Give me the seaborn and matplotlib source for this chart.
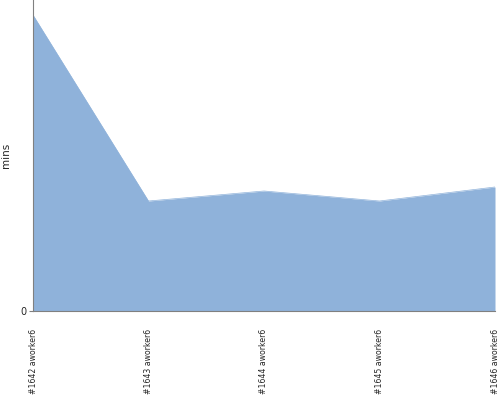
import matplotlib
matplotlib.use("Agg")
import matplotlib.pyplot as plt
import seaborn as sns
import numpy as np

# builds and their duration (mins)
builds = ['#1642 aworker6', '#1643 aworker6', '#1644 aworker6',
          '#1645 aworker6', '#1646 aworker6']
mins = [29.6, 11.0, 12.0, 11.0, 12.4]
y_max = 31.1

sns.set_style("white")
plt.rcParams['font.family'] = ['DejaVu Sans']

fig = plt.figure(figsize=(5, 4), dpi=100)
ax = fig.add_axes([0.066, 0.2225, 0.924, 0.7775])

x = np.arange(len(builds))
ax.fill_between(x, 0, mins, color='#8fb2da', linewidth=0)
sns.lineplot(x=x, y=mins, ax=ax, color='#8fb2da', linewidth=0.5)

ax.set_xlim(0, len(builds) - 1)
ax.set_ylim(0, y_max)
ax.set_xticks(x)
ax.set_xticklabels(builds, rotation=90, fontsize=5.6)
ax.set_yticks([0])
ax.set_yticklabels(['0'], fontsize=7)
ax.tick_params(axis='x', length=0, pad=13)
ax.tick_params(axis='y', length=3, width=0.8, color='#808080', pad=2, left=True)
ax.set_ylabel('mins', fontsize=7.5)
ax.yaxis.set_label_coords(-0.048, 0.5)

for side in ['top', 'right']:
    ax.spines[side].set_visible(False)
for side in ['left', 'bottom']:
    ax.spines[side].set_color('#808080')
    ax.spines[side].set_linewidth(0.8)

fig.savefig('out.png', dpi=100)
